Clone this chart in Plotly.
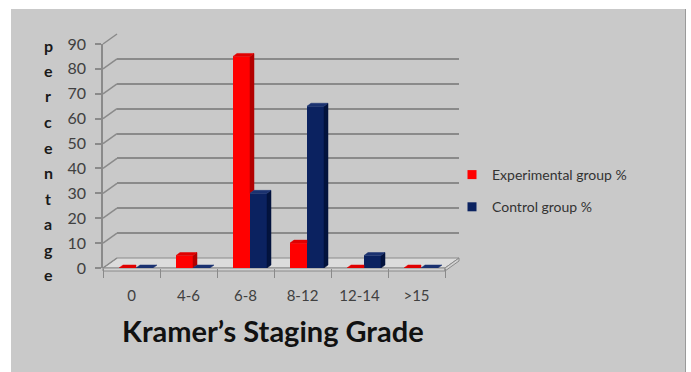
import plotly.graph_objects as go

# ---------------- data ----------------
categories = ["0", "4-6", "6-8", "8-12", "12-14", ">15"]
experimental = [0, 5, 85, 10, 0, 0]
control = [0, 0, 30, 65, 5, 0]
series_names = ["Experimental group %", "Control group %"]
y_ticks = [0, 10, 20, 30, 40, 50, 60, 70, 80, 90]
x_title = "Kramer\u2019s Staging Grade"
y_title = "percentage"

# ---------------- style ----------------
W, H = 691, 372
L, RX, T, BY = 103, 459, 34, 268          # plot area pixels
PW, PH = RX - L, BY - T
DX_PX, DY_PX = 14, 10                     # back-wall offset
FRONT_W, FRONT_H = PW - DX_PX, PH - DY_PX
BG = "#c9c9c9"
GRID = "#8a8a8a"
RED, RED_TOP, RED_SIDE = "#ff0000", "#e00000", "#b30000"
NAVY, NAVY_TOP, NAVY_SIDE = "#0b2260", "#1b3270", "#03133d"
FONT = "Lato"
TXT = "#404040"

n = len(categories)
xr = [-0.5, n - 0.5]
ux = FRONT_W / n           # px per x unit
uy = FRONT_H / 90.0        # px per y unit
bw = 17 / ux               # bar width (data units)
shift = 4.5 / ux
ddx, ddy = 4 / ux, 3 / uy  # bar depth offsets


def px(x):
    return (x - L) / PW


def py(y):
    return 1 - (y - T) / PH


fig = go.Figure()

# invisible trace to keep the back wall axes
fig.add_trace(go.Scatter(x=[None], y=[None], xaxis="x", yaxis="y",
                         showlegend=False, hoverinfo="skip"))

xs = list(range(n))
fig.add_trace(go.Bar(x=xs, y=experimental, width=bw, offset=-bw + shift,
                     marker=dict(color=RED, line=dict(width=0)),
                     xaxis="x2", yaxis="y2", showlegend=False))
fig.add_trace(go.Bar(x=xs, y=control, width=bw, offset=shift,
                     marker=dict(color=NAVY, line=dict(width=0)),
                     xaxis="x2", yaxis="y2", showlegend=False))


def poly(xp, yp, color):
    fig.add_trace(go.Scatter(x=xp + [xp[0]], y=yp + [yp[0]], mode="lines",
                             fill="toself", fillcolor=color,
                             line=dict(color=color, width=0.5),
                             xaxis="x2", yaxis="y2", showlegend=False,
                             hoverinfo="skip"))


for i in range(n):
    # experimental bar faces
    v, c = experimental[i], control[i]
    x0 = i - bw + shift
    x1 = i + shift
    lo = max(0, min(v, c))
    if v > lo:
        poly([x1, x1 + ddx, x1 + ddx, x1], [lo, lo + ddy, v + ddy, v], RED_SIDE)
    if v >= c and v > 0:
        poly([x0, x1, x1 + ddx, x0 + ddx], [v, v, v + ddy, v + ddy], RED_TOP)
    else:
        poly([x0, x1, x1, x0 + ddx], [v, v, v + ddy, v + ddy], RED_TOP)
    # control bar faces
    x0b = i + shift
    x1b = i + bw + shift
    if c > 0:
        poly([x1b, x1b + ddx, x1b + ddx, x1b], [0, ddy, c + ddy, c], NAVY_SIDE)
    poly([x0b, x1b, x1b + ddx, x0b + ddx], [c, c, c + ddy, c + ddy], NAVY_TOP)

# legend entries
for name, col, grp in [(series_names[0], RED, "a"), (series_names[1], NAVY, "b")]:
    fig.add_trace(go.Scatter(x=[None], y=[None], mode="markers", name=name,
                             legendgroup=grp,
                             marker=dict(symbol="square", size=9, color=col),
                             xaxis="x2", yaxis="y2"))

shapes = []
# gray panel
shapes.append(dict(type="rect", xref="paper", yref="paper", layer="below",
                   x0=px(11), x1=px(686), y0=py(9), y1=py(372),
                   fillcolor=BG, line=dict(width=0)))
shapes.append(dict(type="line", xref="paper", yref="paper", layer="below",
                   x0=px(685.5), x1=px(685.5), y0=py(9), y1=py(372),
                   line=dict(color="#9a9a9a", width=1)))
# floor
fx0, fx1 = L, L + FRONT_W
shapes.append(dict(type="path", xref="paper", yref="paper", layer="below",
                   path=f"M{px(fx0)},{py(BY)} L{px(fx1)},{py(BY)} L{px(fx1 + DX_PX)},{py(BY - DY_PX)} "
                        f"L{px(fx0 + DX_PX)},{py(BY - DY_PX)} Z",
                   fillcolor="#dcdcdc", line=dict(color=GRID, width=1)))
shapes.append(dict(type="path", xref="paper", yref="paper", layer="below",
                   path=f"M{px(fx0)},{py(BY)} L{px(fx1)},{py(BY)} L{px(fx1)},{py(BY + 3)} "
                        f"L{px(fx0)},{py(BY + 3)} Z",
                   fillcolor="#d2d2d2", line=dict(color=GRID, width=1)))
shapes.append(dict(type="path", xref="paper", yref="paper", layer="below",
                   path=f"M{px(fx1)},{py(BY)} L{px(fx1 + DX_PX)},{py(BY - DY_PX)} L{px(fx1 + DX_PX)},{py(BY - DY_PX + 3)} "
                        f"L{px(fx1)},{py(BY + 3)} Z",
                   fillcolor="#d2d2d2", line=dict(color=GRID, width=1)))
# diagonal connectors from front axis to back wall gridlines
for t in y_ticks:
    yf = BY - t * uy
    shapes.append(dict(type="line", xref="paper", yref="paper", layer="below",
                       x0=px(L), y0=py(yf), x1=px(L + DX_PX), y1=py(yf - DY_PX),
                       line=dict(color=GRID, width=1.5)))

annotations = []
# vertical y-title letters
for k, ch in enumerate(y_title):
    ypix = 45 + k * 25.5
    annotations.append(dict(text=f"<b>{ch}</b>", xref="paper", yref="paper",
                            x=px(48), y=py(ypix), showarrow=False,
                            xanchor="center", yanchor="middle",
                            font=dict(family=FONT, size=16, color="#1a1a1a")))
annotations.append(dict(text=f"<b>{x_title}</b>", xref="paper", yref="paper",
                        x=px(273), y=py(330), showarrow=False,
                        xanchor="center", yanchor="middle",
                        font=dict(family=FONT, size=29, color="#111111")))

fig.update_layout(
    width=W, height=H,
    margin=dict(l=L, r=W - RX, t=T, b=H - BY, pad=0, autoexpand=False),
    paper_bgcolor="white",
    plot_bgcolor="rgba(0,0,0,0)",
    barmode="overlay",
    shapes=shapes,
    annotations=annotations,
    showlegend=True,
    legend=dict(xref="container", yref="container", x=452 / W, y=1 - 159 / H,
                xanchor="left", yanchor="top", bgcolor="rgba(0,0,0,0)",
                font=dict(family=FONT, size=14, color="#333333"),
                tracegroupgap=11, traceorder="grouped"),
    # back wall axes
    xaxis=dict(domain=[DX_PX / PW, 1], range=xr, showgrid=False, showticklabels=False,
               zeroline=False, ticks="", showline=False),
    yaxis=dict(domain=[DY_PX / PH, 1], range=[0, 90], showgrid=True, gridcolor=GRID,
               gridwidth=1.5, tickvals=y_ticks, showticklabels=False, zeroline=False,
               ticks="", showline=False),
    # front axes
    xaxis2=dict(domain=[0, FRONT_W / PW], range=xr, anchor="y2",
                tickvals=xs, ticktext=categories, ticks="", showgrid=False,
                zeroline=False, showline=False, ticklabelstandoff=17,
                tickfont=dict(family=FONT, size=15, color=TXT),
                minor=dict(tick0=-0.5, dtick=1, ticks="outside", ticklen=9,
                           tickcolor=GRID, tickwidth=1, showgrid=False)),
    yaxis2=dict(domain=[0, FRONT_H / PH], range=[0, 90], anchor="x2",
                tickvals=y_ticks, showgrid=False, zeroline=False,
                showline=True, linecolor=GRID, linewidth=1.5,
                ticks="outside", ticklen=6, tickcolor=GRID, tickwidth=1.5,
                ticklabelstandoff=6,
                tickfont=dict(family=FONT, size=16, color=TXT)),
)

fig.write_html("out.html")
